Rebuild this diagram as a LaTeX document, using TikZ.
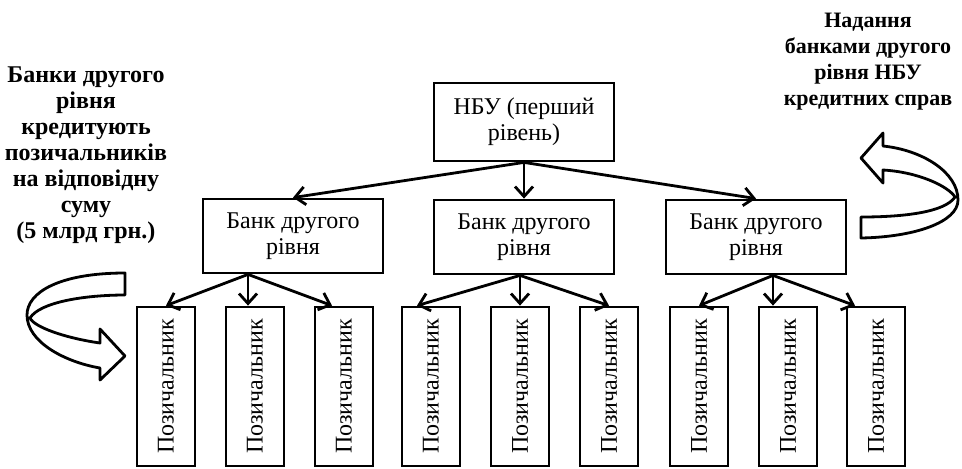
\documentclass[tikz,border=0pt]{standalone}
\usepackage{fontspec}
\setmainfont{Liberation Serif}
\usetikzlibrary{arrows.meta}

\begin{document}
\begin{tikzpicture}[
  x=0.5pt, y=-0.5pt,
  line width=1.4pt,
  txt/.style={font=\fontsize{12}{13}\selectfont, align=center},
  box/.style={txt, draw, rectangle, minimum width=90pt, inner sep=2pt},
  borrower/.style={txt, draw, rotate=90, minimum width=79.5pt, minimum height=29pt, inner sep=1pt},
  note/.style={align=center, font=\fontsize{12}{13}\selectfont\bfseries, inner sep=0pt},
  arr/.style={-{Straight Barb[length=5pt,width=9pt]}},
  ribbon/.style={draw, fill=white, line join=round},
]
  \useasboundingbox (0,0) rectangle (962,468);

  % first level
  \node[box, minimum height=39pt] (nbu) at (524,122) {НБУ (перший\\рівень)};

  % second level
  \node[box, minimum height=37pt] (bankl) at (293,236) {Банк другого\\рівня};
  \node[box, minimum height=37pt] (bankm) at (524,237) {Банк другого\\рівня};
  \node[box, minimum height=37pt] (bankr) at (756,237) {Банк другого\\рівня};

  % borrowers
  \foreach \x [count=\i] in {166,255,344,431,520,609,699,788,876}
    \node[borrower] (b\i) at (\x,386.5) {Позичальник};

  \draw[arr] (nbu.south) -- (bankl.north);
  \draw[arr] (nbu.south) -- (bankm.north);
  \draw[arr] (nbu.south) -- (bankr.north);

  \coordinate (sl) at ([xshift=-22.5pt]bankl.south);
  \coordinate (sm) at ([xshift=-2pt]bankm.south);
  \coordinate (sr) at ([xshift=8.5pt]bankr.south);

  \draw[arr] (sl) -- (b1.east);
  \draw[arr] (sl) -- (sl |- b2.east);
  \draw[arr] (sl) -- ([xshift=-6pt]b3.east);
  \draw[arr] (sm) -- ([xshift=-7pt]b4.east);
  \draw[arr] (sm) -- (sm |- b5.east);
  \draw[arr] (sm) -- (b6.east);
  \draw[arr] (sr) -- (b7.east);
  \draw[arr] (sr) -- (sr |- b8.east);
  \draw[arr] (sr) -- ([xshift=-10.5pt]b9.east);

  % curved arrows
  \draw[ribbon] (125,273) .. controls (60,273) and (27,292) .. (27,315)
    .. controls (27,342) and (65,362) .. (100,368) -- (100,380) -- (125,356)
    -- (100,329) -- (100,343)
    .. controls (65,338) and (34,327) .. (30,318)
    .. controls (40,302) and (85,295) .. (125,295) -- cycle;
  \draw[ribbon] (861,217) -- (861,238)
    .. controls (915,237) and (958,222) .. (958,200)
    .. controls (958,172) and (922,150) .. (883,146)
    -- (883,133) -- (861,158) -- (883,183) -- (883,170)
    .. controls (918,172) and (948,186) .. (955,197)
    .. controls (945,212) and (905,217) .. (861,217) -- cycle;

  \node[note] (lnote) at (86,155) {Банки другого\\рівня\\кредитують\\позичальників\\на відповідну\\суму\\(5 млрд грн.)};
  \node[note, font=\fontsize{11}{13}\selectfont\bfseries] (rnote) at (868,62) {Надання\\банками другого\\рівня НБУ\\кредитних справ};
\end{tikzpicture}
\end{document}
